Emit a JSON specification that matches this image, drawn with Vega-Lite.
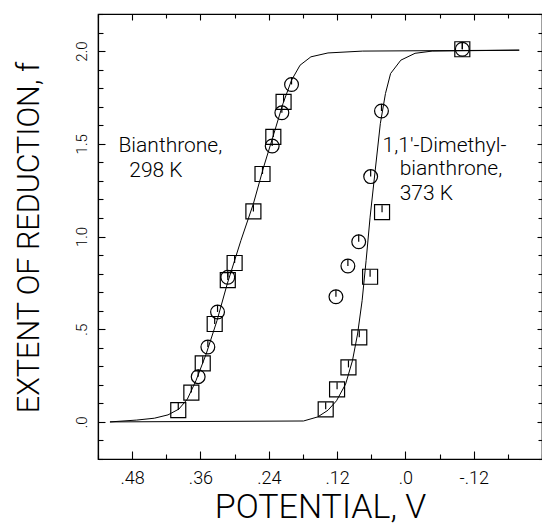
{
  "$schema": "https://vega.github.io/schema/vega-lite/v6.json",
  "width": 444,
  "height": 445,
  "autosize": {"type": "none"},
  "padding": {"left": 98, "top": 14, "right": 0, "bottom": 65},
  "background": "white",
  "config": {
    "view": {"stroke": "black", "strokeWidth": 1.2},
    "font": "Roboto",
    "axis": {"domainColor": "black", "domainWidth": 1.2, "tickColor": "black", "tickWidth": 1.1, "labelColor": "black", "titleColor": "black", "grid": false, "labelFont": "Roboto", "labelFontWeight": 300, "titleFont": "Roboto", "titleFontWeight": 300}
  },
  "datasets": {
    "curve": [
      {"series": "Bianthrone", "V": 0.519, "f": 0.0},
      {"series": "Bianthrone", "V": 0.472, "f": 0.01},
      {"series": "Bianthrone", "V": 0.441, "f": 0.02},
      {"series": "Bianthrone", "V": 0.417, "f": 0.038},
      {"series": "Bianthrone", "V": 0.398, "f": 0.069},
      {"series": "Bianthrone", "V": 0.383, "f": 0.123},
      {"series": "Bianthrone", "V": 0.368, "f": 0.222},
      {"series": "Bianthrone", "V": 0.35, "f": 0.366},
      {"series": "Bianthrone", "V": 0.331, "f": 0.546},
      {"series": "Bianthrone", "V": 0.313, "f": 0.744},
      {"series": "Bianthrone", "V": 0.289, "f": 0.978},
      {"series": "Bianthrone", "V": 0.267, "f": 1.177},
      {"series": "Bianthrone", "V": 0.249, "f": 1.375},
      {"series": "Bianthrone", "V": 0.231, "f": 1.555},
      {"series": "Bianthrone", "V": 0.215, "f": 1.717},
      {"series": "Bianthrone", "V": 0.2, "f": 1.843},
      {"series": "Bianthrone", "V": 0.185, "f": 1.924},
      {"series": "Bianthrone", "V": 0.166, "f": 1.969},
      {"series": "Bianthrone", "V": 0.136, "f": 1.99},
      {"series": "Bianthrone", "V": 0.075, "f": 2.0},
      {"series": "Bianthrone", "V": -0.2, "f": 2.005},
      {"series": "Dimethyl", "V": 0.519, "f": 0.0},
      {"series": "Dimethyl", "V": 0.179, "f": 0.005},
      {"series": "Dimethyl", "V": 0.154, "f": 0.027},
      {"series": "Dimethyl", "V": 0.136, "f": 0.063},
      {"series": "Dimethyl", "V": 0.121, "f": 0.114},
      {"series": "Dimethyl", "V": 0.105, "f": 0.204},
      {"series": "Dimethyl", "V": 0.093, "f": 0.33},
      {"series": "Dimethyl", "V": 0.084, "f": 0.474},
      {"series": "Dimethyl", "V": 0.076, "f": 0.654},
      {"series": "Dimethyl", "V": 0.069, "f": 0.87},
      {"series": "Dimethyl", "V": 0.062, "f": 1.104},
      {"series": "Dimethyl", "V": 0.053, "f": 1.357},
      {"series": "Dimethyl", "V": 0.044, "f": 1.609},
      {"series": "Dimethyl", "V": 0.035, "f": 1.771},
      {"series": "Dimethyl", "V": 0.026, "f": 1.879},
      {"series": "Dimethyl", "V": 0.008, "f": 1.951},
      {"series": "Dimethyl", "V": -0.017, "f": 1.988},
      {"series": "Dimethyl", "V": -0.047, "f": 2.0},
      {"series": "Dimethyl", "V": -0.2, "f": 2.005}
    ],
    "points": [
      {"series": "Bianthrone", "shape": "square", "V": 0.399, "f": 0.064},
      {"series": "Bianthrone", "shape": "square", "V": 0.376, "f": 0.158},
      {"series": "Bianthrone", "shape": "square", "V": 0.356, "f": 0.316},
      {"series": "Bianthrone", "shape": "square", "V": 0.335, "f": 0.528},
      {"series": "Bianthrone", "shape": "square", "V": 0.312, "f": 0.765},
      {"series": "Bianthrone", "shape": "square", "V": 0.3, "f": 0.857},
      {"series": "Bianthrone", "shape": "square", "V": 0.267, "f": 1.135},
      {"series": "Bianthrone", "shape": "square", "V": 0.251, "f": 1.337},
      {"series": "Bianthrone", "shape": "square", "V": 0.232, "f": 1.537},
      {"series": "Bianthrone", "shape": "square", "V": 0.214, "f": 1.726},
      {"series": "Bianthrone", "shape": "circle", "V": 0.364, "f": 0.244},
      {"series": "Bianthrone", "shape": "circle", "V": 0.347, "f": 0.404},
      {"series": "Bianthrone", "shape": "circle", "V": 0.33, "f": 0.593},
      {"series": "Bianthrone", "shape": "circle", "V": 0.312, "f": 0.78},
      {"series": "Bianthrone", "shape": "circle", "V": 0.234, "f": 1.488},
      {"series": "Bianthrone", "shape": "circle", "V": 0.217, "f": 1.667},
      {"series": "Bianthrone", "shape": "circle", "V": 0.2, "f": 1.82},
      {"series": "Dimethyl", "shape": "square", "V": 0.14, "f": 0.068},
      {"series": "Dimethyl", "shape": "square", "V": 0.12, "f": 0.176},
      {"series": "Dimethyl", "shape": "square", "V": 0.1, "f": 0.294},
      {"series": "Dimethyl", "shape": "square", "V": 0.081, "f": 0.456},
      {"series": "Dimethyl", "shape": "square", "V": 0.062, "f": 0.783},
      {"series": "Dimethyl", "shape": "square", "V": 0.041, "f": 1.131},
      {"series": "Dimethyl", "shape": "square", "V": -0.1, "f": 2.01},
      {"series": "Dimethyl", "shape": "circle", "V": 0.122, "f": 0.675},
      {"series": "Dimethyl", "shape": "circle", "V": 0.101, "f": 0.841},
      {"series": "Dimethyl", "shape": "circle", "V": 0.082, "f": 0.972},
      {"series": "Dimethyl", "shape": "circle", "V": 0.061, "f": 1.323},
      {"series": "Dimethyl", "shape": "circle", "V": 0.042, "f": 1.677},
      {"series": "Dimethyl", "shape": "circle", "V": -0.1, "f": 2.01}
    ],
    "labels": [
      {"text": "Bianthrone,", "V": 0.504, "f": 1.456},
      {"text": "298 K", "V": 0.485, "f": 1.321},
      {"text": "1,1'-Dimethyl-", "V": 0.04, "f": 1.456},
      {"text": "bianthrone,", "V": 0.01, "f": 1.332},
      {"text": "373 K", "V": 0.01, "f": 1.197}
    ]
  },
  "layer": [
    {
      "data": {"name": "labels"},
      "mark": {"type": "text", "align": "left", "baseline": "alphabetic", "fontSize": 21, "font": "Roboto", "fontWeight": 300, "color": "black"},
      "encoding": {
        "x": {
          "field": "V", "type": "quantitative",
          "scale": {"domain": [-0.24, 0.54], "reverse": true, "nice": false, "zero": false},
          "axis": {
            "orient": "top",
            "values": [0.54, 0.48, 0.42, 0.36, 0.3, 0.24, 0.18, 0.12, 0.06, 0, -0.06, -0.12, -0.18, -0.24],
            "labels": false,
            "title": null,
            "tickSize": {"condition": {"test": "indexof([0.48,0.36,0.24,0.12,0,-0.12], datum.value) >= 0", "value": -6}, "value": -4}
          }
        },
        "y": {
          "field": "f", "type": "quantitative",
          "scale": {"domain": [-0.2, 2.2], "nice": false, "zero": false},
          "axis": {
            "orient": "right",
            "values": [-0.2, -0.1, 0, 0.1, 0.2, 0.3, 0.4, 0.5, 0.6, 0.7, 0.8, 0.9, 1, 1.1, 1.2, 1.3, 1.4, 1.5, 1.6, 1.7, 1.8, 1.9, 2, 2.1, 2.2],
            "labels": false,
            "title": null,
            "tickSize": {"condition": {"test": "indexof([0,0.5,1,1.5,2], datum.value) >= 0", "value": -5}, "value": -4}
          }
        },
        "text": {"field": "text", "type": "nominal"}
      }
    },
    {
      "data": {"name": "curve"},
      "mark": {"type": "line", "color": "black", "strokeWidth": 1},
      "encoding": {
        "x": {
          "field": "V", "type": "quantitative",
          "axis": {
            "orient": "bottom",
            "values": [0.54, 0.48, 0.42, 0.36, 0.3, 0.24, 0.18, 0.12, 0.06, 0, -0.06, -0.12, -0.18, -0.24],
            "labelExpr": "indexof([0.48,0.36,0.24,0.12,0,-0.12], datum.value) >= 0 ? (datum.value == 0 ? '.0' : replace(replace(format(datum.value, '.2f'), '0.', '.'), '\u2212', '-')) : ''",
            "tickSize": {"condition": {"test": "indexof([0.48,0.36,0.24,0.12,0,-0.12], datum.value) >= 0", "value": -8}, "value": -5},
            "labelPadding": 18,
            "labelFontSize": 18,
            "labelFlush": false,
            "labelOverlap": false,
            "title": "POTENTIAL, V",
            "titleFontSize": 34,
            "titleX": 222,
            "titleY": 58,
            "titleAnchor": "middle",
            "titleAlign": "center",
            "titleBaseline": "alphabetic"
          }
        },
        "y": {
          "field": "f", "type": "quantitative",
          "axis": {
            "orient": "left",
            "values": [-0.2, -0.1, 0, 0.1, 0.2, 0.3, 0.4, 0.5, 0.6, 0.7, 0.8, 0.9, 1, 1.1, 1.2, 1.3, 1.4, 1.5, 1.6, 1.7, 1.8, 1.9, 2, 2.1, 2.2],
            "labelExpr": "indexof([0,0.5,1,1.5,2], datum.value) >= 0 ? (datum.value < 1 ? replace(format(datum.value, '.1f'), '0.', '.') : format(datum.value, '.1f')) : ''",
            "tickSize": {"condition": {"test": "indexof([0,0.5,1,1.5,2], datum.value) >= 0", "value": -7}, "value": -5},
            "labelPadding": 18.5,
            "labelFontSize": 15,
            "labelAngle": 270,
            "labelAlign": "center",
            "labelBaseline": "alphabetic",
            "labelFlush": false,
            "labelOverlap": false,
            "title": "EXTENT OF REDUCTION, f",
            "titleFontSize": 30.5,
            "titleAngle": 270,
            "titleX": -60,
            "titleY": 223,
            "titleAlign": "center",
            "titleBaseline": "alphabetic"
          }
        },
        "detail": {"field": "series", "type": "nominal"}
      }
    },
    {
      "data": {"name": "points"},
      "transform": [{"filter": "datum.shape == 'square'"}],
      "mark": {"type": "point", "shape": "square", "filled": false, "stroke": "black", "strokeWidth": 1.2, "size": 225, "opacity": 1},
      "encoding": {
        "x": {"field": "V", "type": "quantitative", "axis": null},
        "y": {"field": "f", "type": "quantitative", "axis": null}
      }
    },
    {
      "data": {"name": "points"},
      "transform": [{"filter": "datum.shape == 'circle'"}],
      "mark": {"type": "point", "shape": "circle", "filled": false, "stroke": "black", "strokeWidth": 1.2, "size": 190, "opacity": 1},
      "encoding": {
        "x": {"field": "V", "type": "quantitative", "axis": null},
        "y": {"field": "f", "type": "quantitative", "axis": null}
      }
    },
    {
      "data": {"name": "points"},
      "mark": {"type": "point", "shape": "M0,-1L0,0", "filled": false, "stroke": "black", "strokeWidth": 1.2, "size": 200, "opacity": 1},
      "encoding": {
        "x": {"field": "V", "type": "quantitative", "axis": null},
        "y": {"field": "f", "type": "quantitative", "axis": null}
      }
    }
  ],
  "resolve": {"axis": {"x": "independent", "y": "independent"}}
}
